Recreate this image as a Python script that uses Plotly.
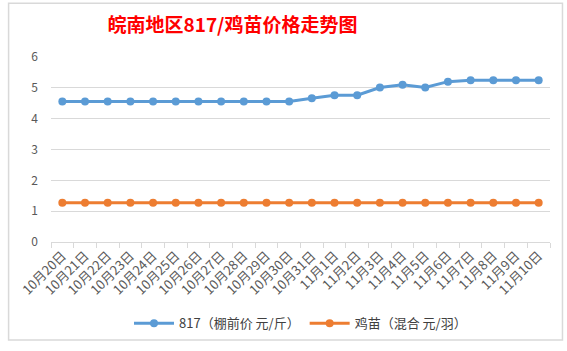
import plotly.graph_objects as go

dates = ["10月20日", "10月21日", "10月22日", "10月23日", "10月24日", "10月25日",
         "10月26日", "10月27日", "10月28日", "10月29日", "10月30日", "10月31日",
         "11月1日", "11月2日", "11月3日", "11月4日", "11月5日", "11月6日",
         "11月7日", "11月8日", "11月9日", "11月10日"]
price_817 = [4.56, 4.56, 4.56, 4.56, 4.56, 4.56, 4.56, 4.56, 4.56, 4.56, 4.56,
             4.66, 4.76, 4.76, 5.01, 5.1, 5.01, 5.2, 5.25, 5.25, 5.25, 5.25]
price_chick = [1.27] * 22
name_817 = "817（棚前价 元/斤）"
name_chick = "鸡苗（混合 元/羽）"
title = "皖南地区817/鸡苗价格走势图"

font_cjk = "Noto Sans CJK SC, Microsoft YaHei, sans-serif"

fig = go.Figure()
fig.add_trace(go.Scatter(x=dates, y=price_817, name=name_817, mode="lines+markers",
                         line=dict(color="#5B9BD5", width=3),
                         marker=dict(color="#5B9BD5", size=8)))
fig.add_trace(go.Scatter(x=dates, y=price_chick, name=name_chick, mode="lines+markers",
                         line=dict(color="#ED7D31", width=3),
                         marker=dict(color="#ED7D31", size=8)))

fig.update_layout(
    width=567, height=351,
    margin=dict(l=51, r=17, t=57, b=106),
    paper_bgcolor="white", plot_bgcolor="white",
    font=dict(family=font_cjk, color="#595959", size=12),
    title=dict(text=title, x=0.41, xanchor="center", y=0.928, yanchor="middle",
               font=dict(family=font_cjk, size=19, color="#FF0000", weight="bold")),
    showlegend=True,
    legend=dict(orientation="h", x=0.5, xanchor="center", y=-0.44, yanchor="middle",
                font=dict(size=13, color="#404040"), itemwidth=40),
    xaxis=dict(type="category", tickangle=-45, showgrid=False, showline=True,
               linecolor="#D9D9D9", linewidth=1, ticks="outside", tickson="boundaries",
               ticklen=5, tickcolor="#D9D9D9", tickfont=dict(size=13, color="#595959"),
               range=[-0.5, 21.5]),
    yaxis=dict(range=[0, 6], dtick=1, showgrid=True, gridcolor="#D9D9D9", gridwidth=1,
               zeroline=False, showline=False, ticks="", tickfont=dict(size=12, color="#595959"),
               ticklabelstandoff=12),
    shapes=[dict(type="rect", xref="paper", yref="paper", x0=-0.085, x1=1.025,
                 y0=-0.53, y1=1.29, line=dict(color="#D9D9D9", width=1.5))],
)

fig.write_html("out.html")
